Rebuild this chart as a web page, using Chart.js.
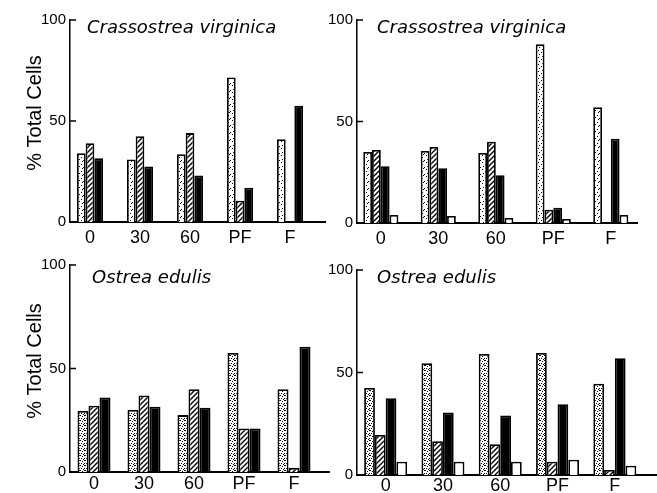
<!DOCTYPE html>
<html>
<head>
<meta charset="utf-8">
<script src="https://cdn.jsdelivr.net/npm/chart.js@4.4.1/dist/chart.umd.min.js"></script>
<style>
  body { margin: 0; background: #fff; }
  #wrap { position: relative; width: 657px; height: 493px; }
  canvas { position: absolute; }
</style>
</head>
<body>
<div id="wrap">
  <canvas id="c1" width="330" height="250" style="left:0;top:0"></canvas>
  <canvas id="c2" width="337" height="250" style="left:320px;top:0"></canvas>
  <canvas id="c3" width="330" height="248" style="left:0;top:245px"></canvas>
  <canvas id="c4" width="337" height="248" style="left:320px;top:245px"></canvas>
</div>
<script>
const labels = ['0', '30', '60', 'PF', 'F'];

// Crassostrea virginica, left panel
const cvStipA  = [34, 31, 33.5, 71.5, 41];
const cvHatchA = [39, 42.5, 44, 10.5, null];
const cvBlackA = [31.5, 27.5, 23, 17, 57.5];

// Crassostrea virginica, right panel
const cvStipB  = [35, 35.5, 34.5, 88, 57];
const cvHatchB = [36, 37.5, 40, 6.5, null];
const cvBlackB = [28, 27, 23.5, 7.5, 41.5];
const cvWhiteB = [4, 3.5, 2.5, 2, 4];

// Ostrea edulis, left panel
const oeStipA  = [29.5, 30, 27.5, 57.5, 40];
const oeHatchA = [32, 37, 40, 21, 2];
const oeBlackA = [36, 31.5, 31, 21, 60.5];

// Ostrea edulis, right panel
const oeStipB  = [42.5, 54.5, 59, 59.5, 44.5];
const oeHatchB = [19.5, 16.5, 15, 6.5, 2.5];
const oeBlackB = [37.5, 30.5, 29, 34.5, 57];
const oeWhiteB = [6.5, 6.5, 6.5, 7.5, 4.5];

// fill patterns
function dots(size, pts) {
  const c = document.createElement('canvas');
  c.width = c.height = size;
  const g = c.getContext('2d');
  g.fillStyle = '#fff';
  g.fillRect(0, 0, size, size);
  g.fillStyle = '#000';
  pts.forEach(p => g.fillRect(p[0], p[1], 1, 1));
  return g.createPattern(c, 'repeat');
}
function hatch(size) {
  const c = document.createElement('canvas');
  c.width = c.height = size;
  const g = c.getContext('2d');
  g.fillStyle = '#fff';
  g.fillRect(0, 0, size, size);
  g.strokeStyle = '#000';
  g.lineWidth = 1.4;
  g.beginPath();
  g.moveTo(0, size); g.lineTo(size, 0);
  g.moveTo(-1, 1); g.lineTo(1, -1);
  g.moveTo(size - 1, size + 1); g.lineTo(size + 1, size - 1);
  g.stroke();
  return g.createPattern(c, 'repeat');
}
const lightDots = dots(7, [[1, 1], [4, 3], [2, 5], [6, 6], [5, 0]]);
const denseDots = dots(5, [[0, 0], [2, 1], [4, 3], [1, 3], [3, 4], [4, 0]]);
const hatchFill = hatch(5);

// species name, y title and small inner ticks on the y axis
const extras = {
  id: 'extras',
  afterDraw(chart, args, opts) {
    const {ctx, chartArea: a, scales: {y}} = chart;
    ctx.save();
    ctx.strokeStyle = '#000';
    ctx.lineWidth = 1.5;
    y.ticks.forEach(t => {
      if (t.value > 0) {
        const py = y.getPixelForValue(t.value);
        ctx.beginPath();
        ctx.moveTo(a.left, py);
        ctx.lineTo(a.left + 6, py);
        ctx.stroke();
      }
    });
    ctx.fillStyle = '#000';
    ctx.font = 'italic 18px "DejaVu Sans"';
    ctx.textBaseline = 'alphabetic';
    ctx.fillText(opts.text, a.left + opts.dx, a.top + opts.dy);
    if (opts.yTitle) {
      ctx.translate(35, a.top + opts.yTitle);
      ctx.rotate(-Math.PI / 2);
      ctx.font = '20px "Liberation Sans"';
      ctx.textAlign = 'center';
      ctx.textBaseline = 'middle';
      ctx.fillText('% Total Cells', 0, 0);
    }
    ctx.restore();
  }
};

function panel(id, title, sets, fills, lay) {
  new Chart(document.getElementById(id), {
    type: 'bar',
    data: {
      datasets: sets.map((vals, k) => ({
        data: vals.map((v, i) => ({x: i, y: v})),
        backgroundColor: fills[k],
        borderColor: '#000',
        borderWidth: 1.8,
        categoryPercentage: lay.cat,
        barPercentage: 1
      }))
    },
    options: {
      responsive: false,
      animation: false,
      layout: { padding: { top: lay.top, right: lay.right, left: 0, bottom: 0 } },
      plugins: {
        legend: { display: false },
        tooltip: { enabled: false },
        extras: { text: title, dx: lay.tx, dy: lay.ty, yTitle: lay.yt }
      },
      scales: {
        x: {
          type: 'linear',
          offset: false,
          min: lay.min,
          max: lay.max,
          afterFit: s => { s.height = lay.xh; },
          afterBuildTicks: s => { s.ticks = labels.map((l, i) => ({ value: i })); },
          grid: { display: false, drawTicks: false },
          border: { color: '#000', width: 2 },
          ticks: {
            autoSkip: false, maxRotation: 0,
            padding: lay.lp, color: '#000',
            font: { family: 'Liberation Sans', size: 18 },
            callback: v => labels[Math.round(v)]
          }
        },
        y: {
          min: 0,
          max: 100,
          afterFit: s => { s.width = lay.yw; },
          grid: { display: false, drawTicks: false },
          border: { color: '#000', width: 1.5 },
          ticks: { stepSize: 50, padding: 4, color: '#000', font: { family: 'Liberation Sans', size: 15 } }
        }
      }
    },
    plugins: [extras]
  });
}

panel('c1', 'Crassostrea virginica', [cvStipA, cvHatchA, cvBlackA],
  [lightDots, hatchFill, '#000'],
  { top: 20, right: 5, xh: 28, yw: 70, min: -0.4, max: 4.7, cat: 0.52, lp: 5, tx: 17, ty: 13, yt: 93 });
panel('c2', 'Crassostrea virginica', [cvStipB, cvHatchB, cvBlackB, cvWhiteB],
  [lightDots, hatchFill, '#000', '#fff'],
  { top: 20, right: 20, xh: 27, yw: 37, min: -0.414, max: 4.456, cat: 0.61, lp: 5, tx: 20, ty: 13, yt: 0 });
panel('c3', 'Ostrea edulis', [oeStipA, oeHatchA, oeBlackA],
  [denseDots, hatchFill, '#000'],
  { top: 20, right: 0, xh: 21, yw: 70, min: -0.48, max: 4.72, cat: 0.66, lp: 1, tx: 22, ty: 18, yt: 96 });
panel('c4', 'Ostrea edulis', [oeStipB, oeHatchB, oeBlackB, oeWhiteB],
  [denseDots, hatchFill, '#000', '#fff'],
  { top: 25, right: 0, xh: 18, yw: 37, min: -0.5, max: 4.736, cat: 0.75, lp: 0, tx: 20, ty: 13, yt: 0 });
</script>
</body>
</html>
